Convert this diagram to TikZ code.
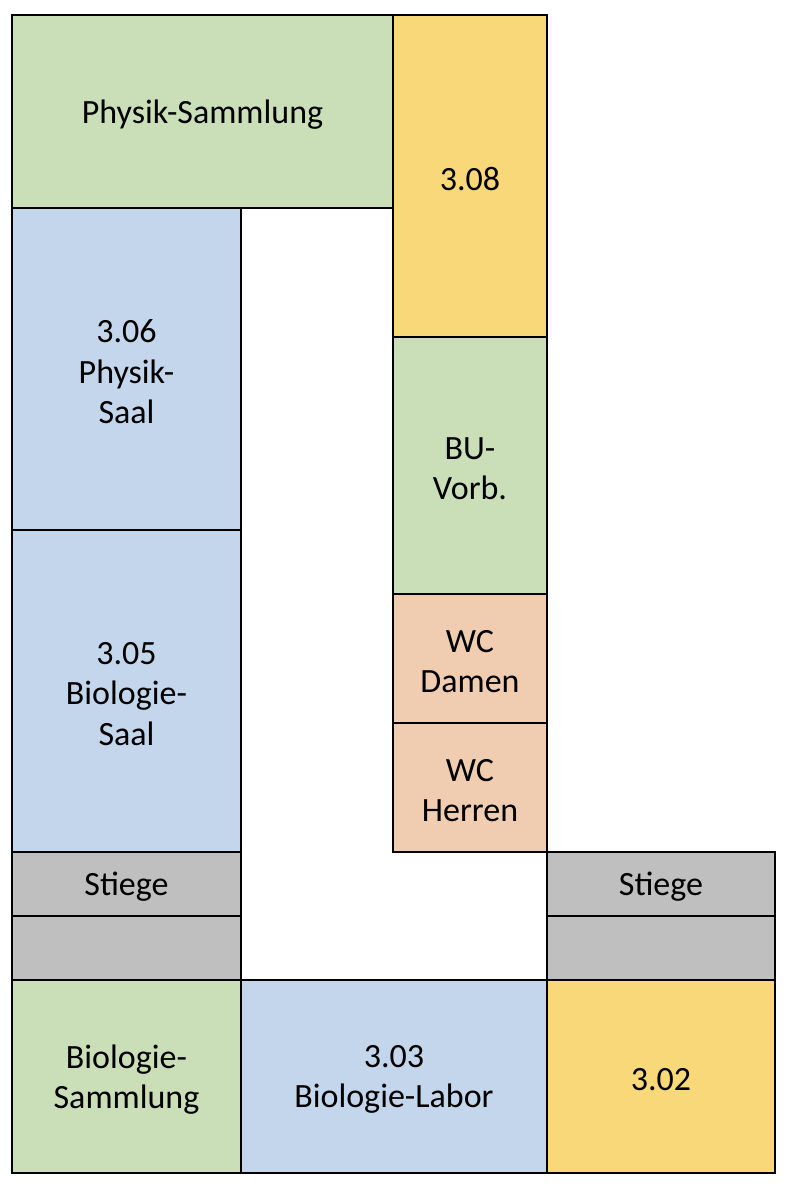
\documentclass[tikz,border=0pt]{standalone}
\usepackage{fontspec}
\setmainfont{Carlito}
\definecolor{rgreen}{RGB}{202,223,184}
\definecolor{rblue}{RGB}{196,214,236}
\definecolor{ryellow}{RGB}{248,216,120}
\definecolor{rpeach}{RGB}{240,205,176}
\definecolor{rgrey}{RGB}{191,191,191}
\tikzset{
  room/.style={draw=black, line width=1.6pt, inner sep=0pt},
  lbl/.style={inner sep=0pt, align=center, yshift=-3pt,
    font=\fontsize{34}{40.5}\selectfont, text=black},
}
\begin{document}
\begin{tikzpicture}[x=1pt,y=-1pt]
\useasboundingbox (0,0) rectangle (788,1192);
\fill[white] (0,0) rectangle (788,1192);
\node[room, fill=rgreen, minimum width=381pt, minimum height=193pt, label={[lbl]center:{Physik-Sammlung}}] (physsam) at (202.5,111.5) {};
\node[room, fill=ryellow, minimum width=154pt, minimum height=322pt, label={[lbl]center:{3.08}}] (r308) at (470,176) {};
\node[room, fill=rblue, minimum width=229pt, minimum height=322pt, label={[lbl]center:{3.06\\Physik-\\Saal}}] (r306) at (126.5,369) {};
\node[room, fill=rblue, minimum width=229pt, minimum height=322pt, label={[lbl]center:{3.05\\Biologie-\\Saal}}] (r305) at (126.5,691) {};
\node[room, fill=rgrey, minimum width=229pt, minimum height=64pt, label={[lbl]center:{Stiege}}] (stiegeL) at (126.5,884) {};
\node[room, fill=rgrey, minimum width=229pt, minimum height=64pt] (greyL) at (126.5,948) {};
\node[room, fill=rgreen, minimum width=229pt, minimum height=193pt, label={[lbl]center:{Biologie-\\Sammlung}}] (biosam) at (126.5,1076.5) {};
\node[room, fill=rblue, minimum width=306pt, minimum height=193pt, label={[lbl]center:{3.03\\Biologie-Labor}}] (r303) at (394,1076.5) {};
\node[room, fill=ryellow, minimum width=228pt, minimum height=193pt, label={[lbl]center:{3.02}}] (r302) at (661,1076.5) {};
\node[room, fill=rgrey, minimum width=228pt, minimum height=64pt, label={[lbl]center:{Stiege}}] (stiegeR) at (661,884) {};
\node[room, fill=rgrey, minimum width=228pt, minimum height=64pt] (greyR) at (661,948) {};
\node[room, fill=rgreen, minimum width=154pt, minimum height=257pt, label={[lbl]center:{BU-\\Vorb.}}] (buv) at (470,465.5) {};
\node[room, fill=rpeach, minimum width=154pt, minimum height=129pt, label={[lbl]center:{WC\\Damen}}] (wcd) at (470,658.5) {};
\node[room, fill=rpeach, minimum width=154pt, minimum height=129pt, label={[lbl]center:{WC\\Herren}}] (wch) at (470,787.5) {};
\end{tikzpicture}
\end{document}
